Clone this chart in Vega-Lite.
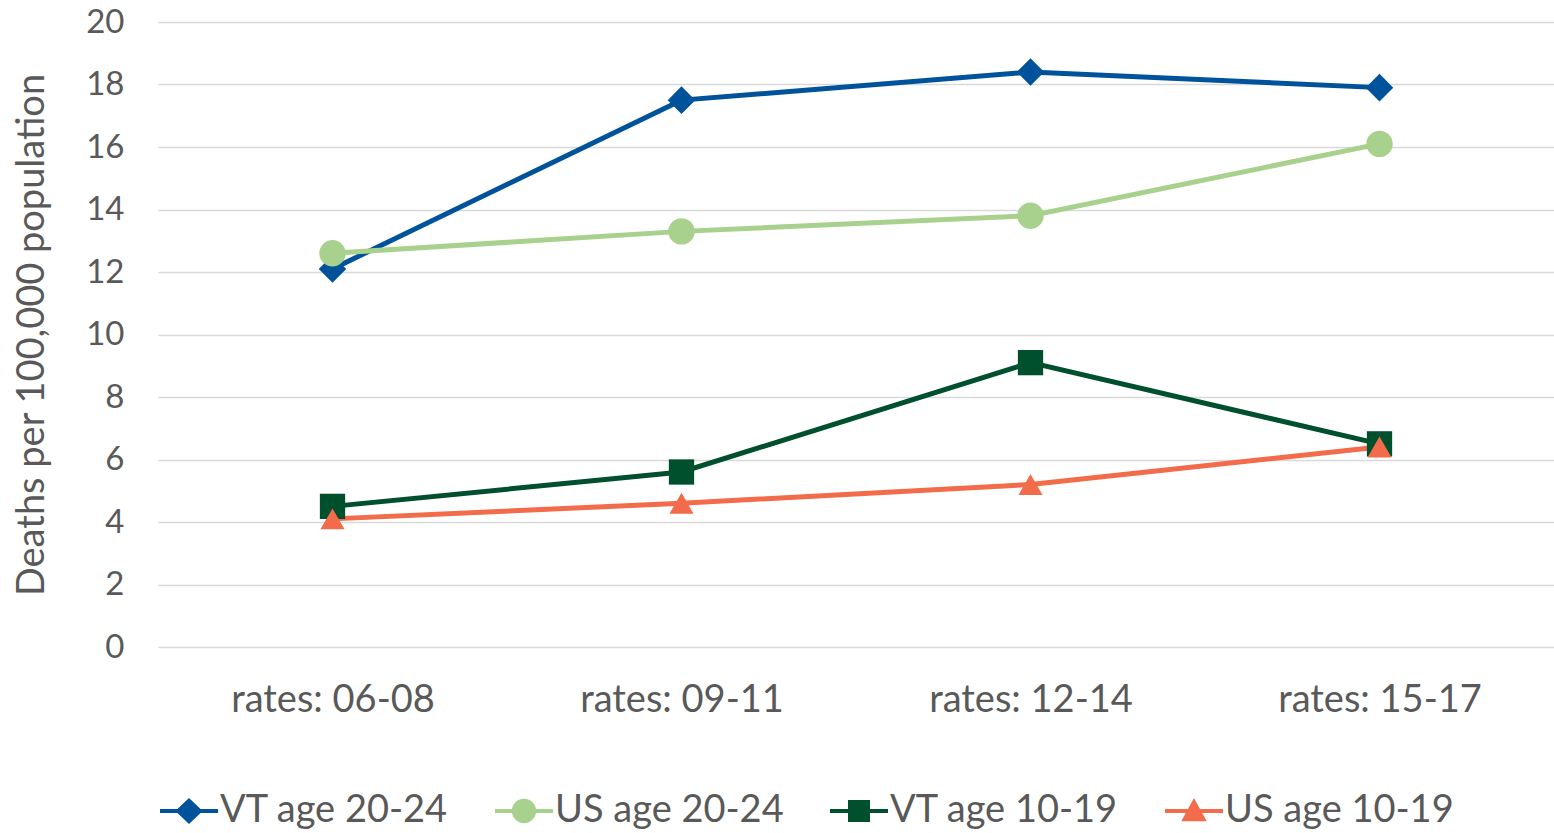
{
  "$schema": "https://vega.github.io/schema/vega-lite/v6.json",
  "width": 1396,
  "height": 625,
  "autosize": "none",
  "padding": {"left": 158, "top": 22, "right": 0, "bottom": 186},
  "background": "white",
  "config": {
    "view": {"stroke": null},
    "font": "Lato",
    "axis": {"labelFont": "Lato", "titleFont": "Lato", "labelColor": "#595959", "titleColor": "#595959", "titleFontWeight": "normal"},
    "legend": {"labelFont": "Lato", "labelColor": "#595959"}
  },
  "data": {
    "values": [
      {"period": "rates: 06-08", "series": "VT age 20-24", "rate": 12.1},
      {"period": "rates: 09-11", "series": "VT age 20-24", "rate": 17.5},
      {"period": "rates: 12-14", "series": "VT age 20-24", "rate": 18.4},
      {"period": "rates: 15-17", "series": "VT age 20-24", "rate": 17.9},
      {"period": "rates: 06-08", "series": "US age 20-24", "rate": 12.6},
      {"period": "rates: 09-11", "series": "US age 20-24", "rate": 13.3},
      {"period": "rates: 12-14", "series": "US age 20-24", "rate": 13.8},
      {"period": "rates: 15-17", "series": "US age 20-24", "rate": 16.1},
      {"period": "rates: 06-08", "series": "VT age 10-19", "rate": 4.5},
      {"period": "rates: 09-11", "series": "VT age 10-19", "rate": 5.6},
      {"period": "rates: 12-14", "series": "VT age 10-19", "rate": 9.1},
      {"period": "rates: 15-17", "series": "VT age 10-19", "rate": 6.5},
      {"period": "rates: 06-08", "series": "US age 10-19", "rate": 4.1},
      {"period": "rates: 09-11", "series": "US age 10-19", "rate": 4.6},
      {"period": "rates: 12-14", "series": "US age 10-19", "rate": 5.2},
      {"period": "rates: 15-17", "series": "US age 10-19", "rate": 6.4}
    ]
  },
  "encoding": {
    "x": {
      "field": "period", "type": "ordinal", "sort": null,
      "scale": {"type": "point", "padding": 0.5},
      "axis": {"title": null, "labelAngle": 0, "labelFontSize": 38, "labelPadding": 34, "labelLimit": 0, "ticks": false, "domain": false}
    },
    "y": {
      "field": "rate", "type": "quantitative",
      "scale": {"domain": [0, 20], "nice": false},
      "axis": {
        "title": "Deaths per 100,000 population", "titleFontSize": 38, "titlePadding": 34,
        "values": [0, 2, 4, 6, 8, 10, 12, 14, 16, 18, 20],
        "labelFontSize": 33, "labelPadding": 34, "ticks": false, "domain": false,
        "gridColor": "#d9d9d9", "gridWidth": 1.5
      }
    }
  },
  "resolve": {
    "legend": {"stroke": "independent", "color": "independent", "shape": "independent", "size": "independent"}
  },
  "layer": [
    {
      "mark": {"type": "line", "strokeWidth": 5},
      "encoding": {
        "stroke": {
          "field": "series", "type": "nominal",
          "scale": {
            "domain": ["VT age 20-24", "US age 20-24", "VT age 10-19", "US age 10-19"],
            "range": ["#00539b", "#a9d18e", "#00502d", "#f26b4a"]
          },
          "legend": {
            "title": null, "orient": "none", "direction": "horizontal",
            "legendX": 2, "legendY": 760,
            "labelFontSize": 38, "labelOffset": 2, "labelLimit": 0, "columnPadding": 46,
            "symbolSize": 3364, "symbolStrokeWidth": 0, "symbolOpacity": 1,
            "encode": {
              "symbols": {
                "update": {
                  "fill": {"scale": "stroke", "field": "value"},
                  "opacity": {"value": 1},
                  "strokeWidth": {"value": 0},
                  "size": {"value": 3364},
                  "shape": {"signal": "datum.value == 'VT age 20-24' ? 'M-1,-0.07H-0.4L0,-0.45L0.4,-0.07H1V0.07H0.4L0,0.45L-0.4,0.07H-1Z' : datum.value == 'US age 20-24' ? 'M-1,-0.07H1V0.07H-1Z M0.42,0A0.42,0.42 0 1,1 -0.42,0A0.42,0.42 0 1,1 0.42,0Z' : datum.value == 'VT age 10-19' ? 'M-1,-0.07H1V0.07H-1Z M-0.38,-0.38H0.38V0.38H-0.38Z' : 'M-1,-0.07H1V0.07H-1Z M0,-0.45L0.44,0.35H-0.44Z'"}
                }
              }
            }
          }
        }
      }
    },
    {
      "mark": {"type": "point", "filled": true, "opacity": 1},
      "encoding": {
        "color": {
          "field": "series", "type": "nominal", "legend": null,
          "scale": {
            "domain": ["VT age 20-24", "US age 20-24", "VT age 10-19", "US age 10-19"],
            "range": ["#00539b", "#a9d18e", "#00502d", "#f26b4a"]
          }
        },
        "shape": {
          "field": "series", "type": "nominal", "legend": null,
          "scale": {
            "domain": ["VT age 20-24", "US age 20-24", "VT age 10-19", "US age 10-19"],
            "range": ["diamond", "circle", "square", "triangle-up"]
          }
        },
        "size": {
          "field": "series", "type": "nominal", "legend": null,
          "scale": {
            "domain": ["VT age 20-24", "US age 20-24", "VT age 10-19", "US age 10-19"],
            "range": [760, 580, 729, 760]
          }
        }
      }
    }
  ]
}
